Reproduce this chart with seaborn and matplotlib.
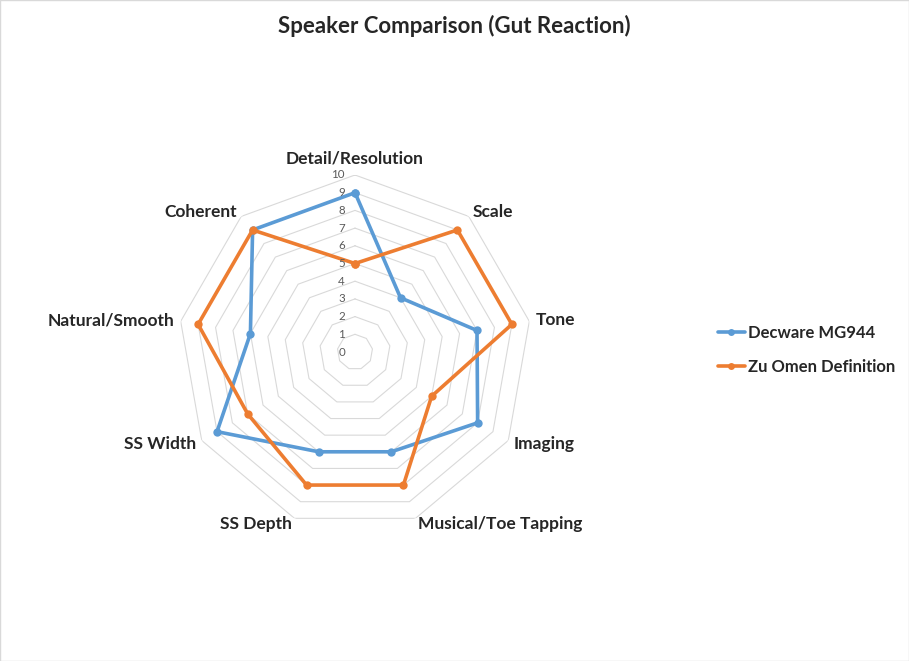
import numpy as np
import pandas as pd
import matplotlib
matplotlib.use("Agg")
import matplotlib.pyplot as plt
import seaborn as sns
from matplotlib.patches import Rectangle

# data
categories = ["Detail/Resolution", "Scale", "Tone", "Imaging", "Musical/Toe Tapping",
              "SS Depth", "SS Width", "Natural/Smooth", "Coherent"]
decware = [9, 4, 7, 8, 6, 6, 9, 6, 9]
zu_omen = [5, 9, 9, 5, 8, 8, 7, 9, 9]
series_names = ["Decware MG944", "Zu Omen Definition"]
radial_ticks = list(range(0, 11))

BLUE = "#5B9BD5"
ORANGE = "#ED7D31"

sns.set_style("white")
plt.rcParams["font.family"] = ["Lato", "DejaVu Sans"]

n = len(categories)
theta = np.linspace(0, 2 * np.pi, n, endpoint=False)
theta_closed = np.append(theta, 2 * np.pi)

rows = []
for name, vals in zip(series_names, [decware, zu_omen]):
    closed = list(vals) + [vals[0]]
    for t, v in zip(theta_closed, closed):
        rows.append({"theta": t, "value": v, "speaker": name})
df = pd.DataFrame(rows)

fig = plt.figure(figsize=(9.09, 6.61), dpi=100)
W, H = 909, 661
cx, cy, R = 355, 352, 177
ax = fig.add_axes([(cx - R) / W, (H - cy - R) / H, 2 * R / W, 2 * R / H], projection="polar")
ax.set_theta_zero_location("N")
ax.set_theta_direction(-1)
ax.set_ylim(0, 10)
ax.grid(False)
ax.spines["polar"].set_visible(False)
ax.set_xticks([])
ax.set_yticks([])
ax.patch.set_alpha(0)

# nonagon grid
for k in radial_ticks[1:]:
    ax.plot(theta_closed, [k] * len(theta_closed), color="#d9d9d9", lw=0.8, zorder=1)

sns.lineplot(data=df, x="theta", y="value", hue="speaker", sort=False, estimator=None,
             palette=[BLUE, ORANGE], marker="o", markersize=6, markeredgewidth=0,
             linewidth=2.6, ax=ax, legend=False, zorder=3)
ax.set_xlabel("")
ax.set_ylabel("")

# radial value labels
for k in radial_ticks:
    x = cx - 10
    y = cy - k * R / 10
    fig.text(x / W, 1 - y / H, str(k), ha="right", va="center", fontsize=8.3, color="#595959")

# category labels
for t, lab in zip(theta, categories):
    deg = np.degrees(t)
    if deg < 1:
        ax.text(t, 10.5, lab, ha="center", va="bottom", fontsize=12.5, fontweight="bold")
    elif deg < 180:
        ax.text(t, 10.35, lab, ha="left", va="center", fontsize=12.5, fontweight="bold")
    else:
        ax.text(t, 10.35, lab, ha="right", va="center", fontsize=12.5, fontweight="bold")

fig.text(0.5, 1 - 26 / H, "Speaker Comparison (Gut Reaction)", ha="center", va="center",
         fontsize=16, fontweight="bold")

handles = [plt.Line2D([], [], color=c, lw=2.6, marker="o", markersize=5, markeredgewidth=0)
           for c in [BLUE, ORANGE]]
fig.legend(handles, series_names, loc="center left", bbox_to_anchor=(703 / W, 1 - 350 / H),
           frameon=False, prop={"size": 12, "weight": "bold"}, handlelength=1.6,
           handletextpad=0.2, labelspacing=1.05)

fig.patches.append(Rectangle((0, 0), 1, 1, transform=fig.transFigure, fill=False,
                             edgecolor="#d9d9d9", lw=1))

fig.savefig("out.png", dpi=100)
